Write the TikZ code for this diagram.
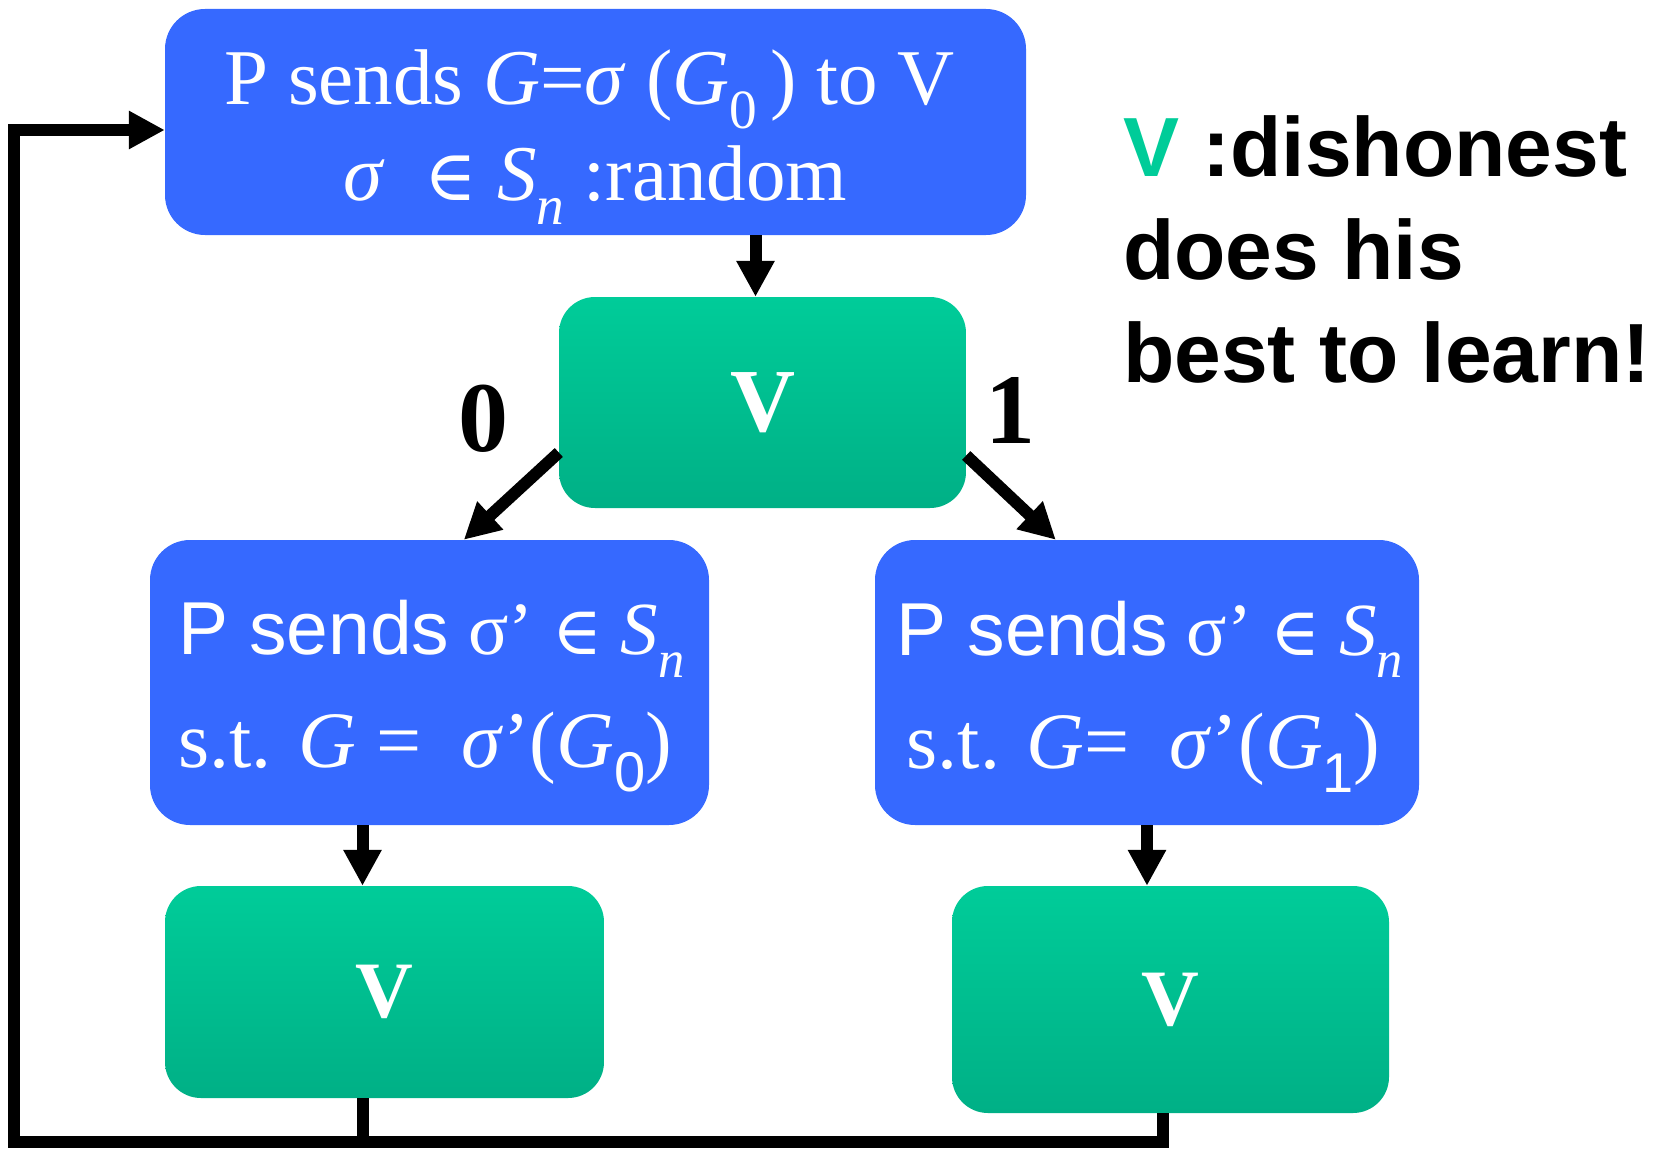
\documentclass[tikz,border=0pt]{standalone}
\usepackage{fontspec}
\setmainfont{Liberation Serif}
\newfontfamily\arial{Liberation Sans}
\newfontfamily\dejaserif{DejaVu Serif}
\usetikzlibrary{arrows.meta}

\definecolor{pblue}{RGB}{54,105,255}
\definecolor{vtop}{RGB}{0,204,153}
\definecolor{vbot}{RGB}{0,176,134}

\newcommand\lowsub[1]{\raisebox{-0.3em}{\scalebox{0.7}{#1}}}
\newcommand\elem{{\dejaserif\scalebox{0.9}{∈}}}

\tikzset{
  bluebox/.style={rectangle, rounded corners=40pt, fill=pblue, inner sep=0pt},
  greenbox/.style={rectangle, rounded corners=36pt, top color=vtop, bottom color=vbot, text=white, inner sep=0pt},
  boxtext/.style={text=white, inner sep=0pt},
  arr/.style={line width=12pt, line join=miter, -{Triangle[length=36pt,width=36pt]}},
  lineplain/.style={line width=12pt},
  bitlabel/.style={font=\fontsize{100}{100}\selectfont\bfseries, text=black, inner sep=0pt},
  sidetext/.style={anchor=base west, inner sep=0pt, font=\arial\bfseries\fontsize{84}{103}\selectfont},
}

\begin{document}
\begin{tikzpicture}[x=1pt,y=-1pt]
\useasboundingbox (0,0) rectangle (1672,1148);

% boxes
\node[bluebox, minimum width=861pt, minimum height=226pt] (top) at (595.5,122) {};
\node[boxtext, align=center, font=\fontsize{79}{96}\selectfont] (toptext) at ([xshift=-6pt,yshift=-15pt]top.center)
  {P sends \textit{G}=\textit{σ} (\textit{G}\lowsub{0}\,) to V\\
   \hspace*{12pt}\textit{σ}\ \ \elem\ \textit{S}\lowsub{\textit{n}} :random};

\node[greenbox, minimum width=407pt, minimum height=211pt,
      font=\fontsize{90}{90}\selectfont\bfseries] (mid) at (762.5,402.5) {V};

\node[bluebox, minimum width=559pt, minimum height=285pt] (lb) at (429.5,682.5) {};
\node[boxtext, align=left, font=\fontsize{75}{113}\selectfont] (lbtext) at ([xshift=2pt,yshift=-14pt]lb.center)
  {{\arial P sends} σ’ \elem\ \textit{S}\lowsub{\textit{n}}\\
   \fontsize{80}{113}\selectfont s.t. \textit{G} = \ \textit{σ}’(\textit{G}\lowsub{\arial 0})};

\node[bluebox, minimum width=544pt, minimum height=285pt] (rb) at (1147,682.5) {};
\node[boxtext, align=left, font=\fontsize{75}{113}\selectfont] (rbtext) at ([xshift=3pt,yshift=-14pt]rb.center)
  {{\arial P sends} σ’ \elem\ \textit{S}\lowsub{\textit{n}}\\
   \fontsize{80}{113}\selectfont\hspace*{10pt}s.t. \textit{G}= \ \textit{σ}’(\textit{G}\lowsub{\arial 1})};

\node[greenbox, minimum width=439pt, minimum height=212pt,
      font=\fontsize{80}{80}\selectfont\bfseries] (bl) at (384.5,992) {V};

\node[greenbox, minimum width=437pt, minimum height=227pt,
      font=\fontsize{80}{80}\selectfont\bfseries] (br) at (1170.5,999.5) {V};

% labels
\node[bitlabel] (zero) at (483,419) {0};
\node[bitlabel] (one) at (1010,410) {1};

% side text
\node[sidetext] (s1) at (1123,176) {\textcolor{vtop}{V} :dishonest};
\node[sidetext] (s2) at (1123,279) {does his};
\node[sidetext] (s3) at (1123,382) {best to learn!};

% arrows
\draw[arr] ([xshift=-7pt]top.south -| mid.north) -- ([xshift=-7pt]mid.north);
\draw[arr] ([yshift=-50pt]mid.west) -- ([xshift=314pt]lb.north west);
\draw[arr] ([yshift=-53pt]mid.east) -- ([xshift=181pt]rb.north west);
\draw[arr] ([xshift=-67pt]lb.south) -- ([xshift=-67pt]lb.south |- bl.north);
\draw[arr] (rb.south) -- (rb.south |- br.north);

% feedback loop
\coordinate (lc) at (14,1142);
\coordinate (tc) at (14,130);
\draw[lineplain] ([xshift=-22pt]bl.south) -- ([xshift=-22pt]bl.south |- lc);
\draw[arr] ([xshift=-8pt]br.south) -- ([xshift=-8pt]br.south |- lc) -- (lc) -- (tc) -- (tc -| top.west);
\end{tikzpicture}
\end{document}
